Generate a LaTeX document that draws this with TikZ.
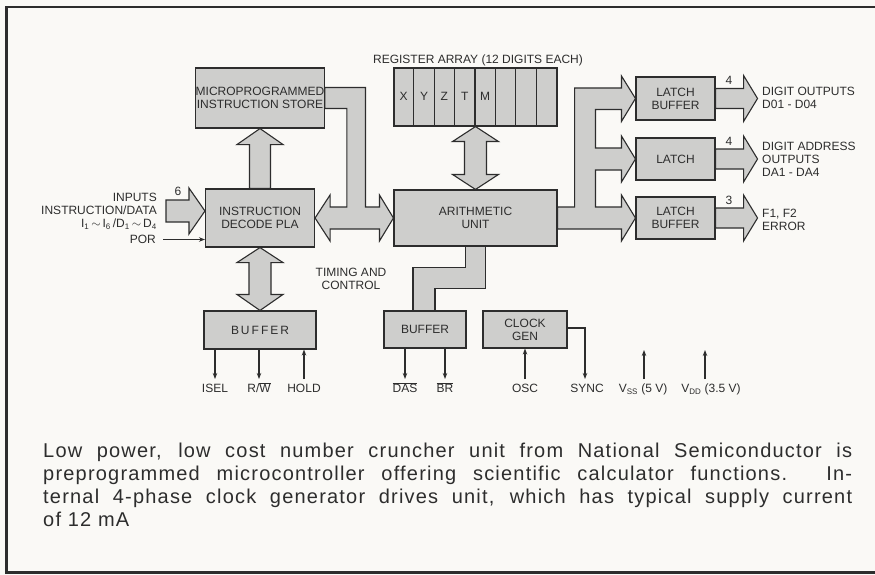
\documentclass[tikz,border=0pt]{standalone}
\usepackage{fontspec}
\setmainfont{Liberation Sans}
\newfontfamily\captfam[LetterSpace=6]{Liberation Sans}
\usetikzlibrary{calc,arrows.meta,backgrounds}
\definecolor{paper}{RGB}{250,249,246}
\definecolor{boxgray}{RGB}{206,206,204}
\definecolor{ink}{RGB}{45,45,45}
\newcommand\dlabelfont{\fontsize{12}{13}\selectfont}
\newcommand\captfont{\captfam\fontsize{20}{23}\selectfont}
\begin{document}
\begin{tikzpicture}[x=1pt,y=-1pt,
  blk/.style={draw=ink,fill=boxgray,line width=1.1pt,inner sep=0pt,align=center,font=\dlabelfont,text=ink},
  bus/.style={draw=ink,fill=boxgray,line width=1.1pt,line join=miter},
  sig/.style={draw=ink,line width=1.1pt,-{Stealth[length=6pt,width=4.5pt]}},
  lab/.style={font=\dlabelfont,text=ink,inner sep=1pt,text height=8.5pt,text depth=2pt},
  mlab/.style={font=\dlabelfont,text=ink,inner sep=0pt},
]
\useasboundingbox (0,0) rectangle (875,575);

% blocks
\node[blk,minimum width=126pt,minimum height=60pt] (store) at (260,98) {MICROPROGRAMMED\\INSTRUCTION STORE};
\node[blk,minimum width=109pt,minimum height=58pt] (dec) at (260,218) {INSTRUCTION\\DECODE PLA};
\node[blk,minimum width=112pt,minimum height=38pt] (buf1) at (260,330) {B\,U\,F\,F\,E\,R};
\node[blk,minimum width=163pt,minimum height=56pt] (arith) at (475.5,218) {ARITHMETIC\\UNIT};
\node[blk,minimum width=163pt,minimum height=58pt] (reg) at (475.5,97) {};
\node[blk,minimum width=82pt,minimum height=37pt] (buf2) at (425,329.5) {BUFFER};
\node[blk,minimum width=84pt,minimum height=37pt] (clk) at (525,329.5) {CLOCK\\GEN};
\node[blk,minimum width=79pt,minimum height=43pt] (latch1) at (675.5,98.5) {LATCH\\BUFFER};
\node[blk,minimum width=79pt,minimum height=42pt] (latch2) at (675.5,159) {LATCH};
\node[blk,minimum width=79pt,minimum height=42pt] (latch3) at (675.5,218) {LATCH\\BUFFER};

% register cells
\foreach \i in {1,...,7}
  \draw[draw=ink,line width=1.1pt] ($(reg.north west)+(\i*20.375,0)$) -- ($(reg.south west)+(\i*20.375,0)$);
\foreach \l [count=\i] in {X,Y,Z,T,M}
  \node[lab] (cell\i) at ($(reg.west)+(\i*20.375-10.19,0)$) {\l};
\node[lab] (reglbl) at (478,60) {REGISTER ARRAY (12 DIGITS EACH)};

% free ends
\coordinate (inL) at (166,211);
\coordinate (intip) at ($(dec.west)+(0,-7)$);
\coordinate (porL) at (163,239.5);

\begin{scope}[on background layer]
\fill[paper] (0,0) rectangle (875,575);
% decode -> store
\draw[bus] ($(dec.north)+(-10.5,0)$) |- ($(store.south)+(-23,16)$) -- (store.south) -- ($(store.south)+(23,16)$) -| ($(dec.north)+(10.5,0)$) -- cycle;
% decode <-> buffer
\draw[bus] (dec.south) -- ($(dec.south)+(23,15)$) -- ($(dec.south)+(11,15)$) -- ($(buf1.north)+(11,-16)$) -- ($(buf1.north)+(23,-16)$) -- (buf1.north) -- ($(buf1.north)+(-23,-16)$) -- ($(buf1.north)+(-11,-16)$) -- ($(dec.south)+(-11,15)$) -- ($(dec.south)+(-23,15)$) -- cycle;
% register <-> arithmetic
\draw[bus] (reg.south) -- ($(reg.south)+(23,15)$) -- ($(reg.south)+(11,15)$) -- ($(arith.north)+(11,-15)$) -- ($(arith.north)+(23,-15)$) -- (arith.north) -- ($(arith.north)+(-23,-15)$) -- ($(arith.north)+(-11,-15)$) -- ($(reg.south)+(-11,15)$) -- ($(reg.south)+(-23,15)$) -- cycle;
% inputs
\draw[bus] ($(inL)+(0,-11)$) -- ($(intip)+(-16,-11)$) -- ($(intip)+(-16,-23)$) -- (intip) -- ($(intip)+(-16,23)$) -- ($(intip)+(-16,11)$) -- ($(inL)+(0,11)$) -- cycle;
% store -> decode / arithmetic T bus
\draw[bus] ($(store.east)+(0,-10.5)$) -| ($(arith.west)+(-28,-11)$) -- ++(14,0) -- ++(0,-12) -- (arith.west) -- ++(-14,23) -- ++(0,-12) -- ($(dec.east)+(15,11)$) -- ++(0,12) -- (dec.east) -- ++(15,-23) -- ++(0,12) -| ($(store.east)+(22,10.5)$) -- ($(store.east)+(0,10.5)$) -- cycle;
% arithmetic -> latches
\draw[bus] ($(arith.east)+(0,-11)$) -- ++(17,0) |- ($(latch1.west)+(-14,-10.5)$) -- ++(0,-12) -- (latch1.west) -- ++(-14,23) -- ++(0,-12) -- ++(-26,0)
  |- ($(latch2.west)+(-14,-11)$) -- ++(0,-12) -- (latch2.west) -- ++(-14,23) -- ++(0,-12) -- ++(-26,0)
  |- ($(latch3.west)+(-14,-11)$) -- ++(0,-12) -- (latch3.west) -- ++(-14,23) -- ++(0,-12) -- ($(arith.east)+(0,11)$) -- cycle;
% arithmetic -> buffer (timing and control)
\draw[bus] ($(arith.south)+(-10,0)$) |- ($(buf2.north)+(-12,-43)$) -- ($(buf2.north)+(-12,0)$) -- ($(buf2.north)+(10,0)$) |- ($(arith.south)+(10,42)$) -- ($(arith.south)+(10,0)$) -- cycle;
% latch outputs
\foreach \n in {latch1,latch2,latch3}
  \draw[bus] ($(\n.east)+(0,-10)$) -- ++(28,0) -- ++(0,-13) -- ++(14,23) -- ++(-14,23) -- ++(0,-13) -- ($(\n.east)+(0,10)$) -- cycle;
\end{scope}

% frame
\draw[ink,line width=2.5pt] (875,7) -- (6.5,7) -- (6.5,572.5) -- (875,572.5);

% input labels
\node[mlab,align=right,anchor=east] (inlbl) at (157,211.5) {INPUTS\\INSTRUCTION/DATA\\I\textsubscript{1}\,$\sim$\,I\textsubscript{6}\,/D\textsubscript{1}\,$\sim$\,D\textsubscript{4}};
\node[lab] (six) at (178,192) {6};
\node[lab,anchor=east] (por) at (157,240) {POR};
\draw[sig] (porL) -- (dec.west |- porL);

\node[mlab,align=center] (timing) at (351,279) {TIMING AND\\CONTROL};

% outputs right
\node[lab] (n1) at (729,81) {4};
\node[lab] (n2) at (729,142) {4};
\node[lab] (n3) at (729,201) {3};
\node[mlab,align=left,anchor=west] (o1) at (762,97.5) {DIGIT OUTPUTS\\D01 - D04};
\node[mlab,align=left,anchor=west] (o2) at (762,159) {DIGIT ADDRESS\\OUTPUTS\\DA1 - DA4};
\node[mlab,align=left,anchor=west] (o3) at (762,219.5) {F1, F2\\ERROR};

% bottom signals
\node[lab,anchor=north] (isel) at (215,383) {ISEL};
\node[lab,anchor=north] (rw) at (259,383) {R/$\overline{\mbox{W}}$};
\node[lab,anchor=north] (hold) at (304,383) {HOLD};
\node[lab,anchor=north] (das) at (405,383) {$\overline{\mbox{DAS}}$};
\node[lab,anchor=north] (br) at (445,383) {$\overline{\mbox{BR}}$};
\node[lab,anchor=north] (osc) at (525,383) {OSC};
\node[lab,anchor=north] (sync) at (587,383) {SYNC};
\node[lab,anchor=north] (vss) at (643,383) {V\textsubscript{SS} (5 V)};
\node[lab,anchor=north] (vdd) at (711,383) {V\textsubscript{DD} (3.5 V)};

\draw[sig] (buf1.south -| isel) -- ($(isel.north)+(0,-4)$);
\draw[sig] (buf1.south -| rw) -- ($(rw.north)+(0,-4)$);
\draw[sig] ($(hold.north)+(0,-4)$) -- (buf1.south -| hold);
\draw[sig] (buf2.south -| das) -- ($(das.north)+(0,-4)$);
\draw[sig] (buf2.south -| br) -- ($(br.north)+(0,-4)$);
\draw[sig] ($(osc.north)+(0,-4)$) -- (clk.south -| osc);
\draw[sig] ($(clk.east)+(0,-1.5)$) -| ($(sync.north)+(-2,-4)$);
\draw[sig] ($(vss.north)+(1,-4)$) -- ++(0,-29);
\draw[sig] ($(vdd.north)+(-6,-4)$) -- ++(0,-29);

% caption
\node[anchor=north west,inner sep=0pt,text width=809pt,align=justify,text=ink,font=\captfont] (cap) at (43,443)
{Low power, low cost number cruncher unit from National Semiconductor is\linebreak
preprogrammed microcontroller offering scientific calculator functions. In-\linebreak
ternal 4-phase clock generator drives unit, which has typical supply current\linebreak
of 12 mA};
\end{tikzpicture}
\end{document}
